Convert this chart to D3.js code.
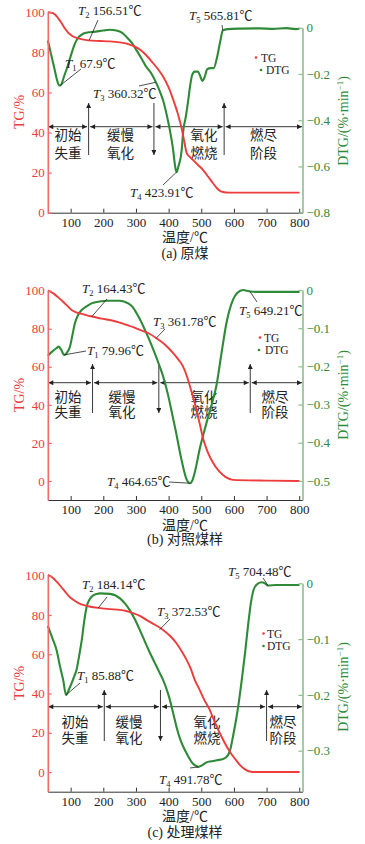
<!DOCTYPE html>
<html><head><meta charset="utf-8">
<script src="https://cdn.jsdelivr.net/npm/d3@7"></script>
<style>
body{margin:0;background:#fff}
svg{display:block}
text{font-family:"Liberation Serif","Noto Sans CJK SC",serif}
</style></head>
<body><svg id="chart" width="365" height="844"></svg>
<script>
// ---------------- DATA ----------------
const tempTicks = [100,200,300,400,500,600,700,800];
const stageNames = [["初始","失重"],["缓慢","氧化"],["氧化","燃烧"],["燃尽","阶段"]];
const captions = ["(a) 原煤","(b) 对照煤样","(c) 处理煤样"];

// (a) raw coal
const tgA = [[30,100],[40,99.8],[52,98.9],[62,97],[72,94.7],[82,92],[93,89.7],[105,88.2],[118,87.2],[135,86.5],[154,86],[190,85.7],[220,85.5],[250,85],[281,83.9],[300,82.6],[312,81.4],[330,78.8],[352,74.7],[368,71.5],[383,68],[400,62.5],[414,56.4],[428,49.5],[440,42],[448,35.5],[455,30],[465,27.8],[475,26.2],[490,23.8],[505,21.4],[520,18.2],[536,14.7],[548,12.2],[560,10.6],[575,10.1],[597,10],[700,10],[801,10]];
const dtgA = [[30,-0.055],[36,-0.09],[42,-0.127],[50,-0.175],[58,-0.225],[65,-0.25],[70,-0.248],[80,-0.21],[93,-0.156],[103,-0.11],[113,-0.069],[125,-0.04],[138,-0.026],[155,-0.02],[170,-0.018],[200,-0.012],[220,-0.009],[240,-0.012],[258,-0.022],[271,-0.04],[287,-0.065],[302,-0.098],[317,-0.133],[332,-0.17],[348,-0.2],[363,-0.242],[373,-0.275],[383,-0.314],[393,-0.37],[404,-0.444],[414,-0.53],[420,-0.6],[424,-0.625],[430,-0.6],[440,-0.53],[445,-0.444],[452,-0.39],[460,-0.314],[466,-0.25],[472,-0.205],[480,-0.19],[490,-0.19],[497,-0.21],[503,-0.23],[510,-0.215],[518,-0.18],[528,-0.175],[538,-0.175],[548,-0.13],[558,-0.06],[566,-0.012],[580,-0.006],[620,-0.004],[680,-0.003],[720,-0.005],[760,-0.002],[790,-0.006],[801,-0.003]];
const tgTicksA = [0,20,40,60,80,100];
const dtgTicksA = [0,-0.2,-0.4,-0.6,-0.8];
const peaksA = [
  {n:"1", t:67.9,   label:"67.9℃",   on:"dtg", v:-0.25},
  {n:"2", t:156.51, label:"156.51℃", on:"tg",  v:86},
  {n:"3", t:360.32, label:"360.32℃", on:"dtg", v:-0.236},
  {n:"4", t:423.91, label:"423.91℃", on:"dtg", v:-0.625},
  {n:"5", t:565.81, label:"565.81℃", on:"dtg", v:-0.012}
];
const stagesA = [155,355,570];

// (b) control sample
const tgB = [[30,100],[47,98.6],[62,96.5],[77,94.2],[90,92],[103,89.9],[115,88.8],[128,88.1],[150,87],[169,86.3],[195,85.3],[220,84.6],[250,83.2],[271,82],[292,80.8],[312,79.4],[340,77.5],[363,75],[390,71.5],[414,67.2],[430,63.8],[444,60.2],[458,54],[470,47],[482,39.5],[494,31],[506,22],[520,15],[536,9.6],[555,5],[575,2],[597,0.6],[700,0.2],[801,0]];
const dtgB = [[30,-0.172],[45,-0.16],[57,-0.152],[63,-0.148],[70,-0.155],[80,-0.17],[88,-0.165],[98,-0.148],[105,-0.12],[113,-0.087],[123,-0.065],[134,-0.052],[150,-0.042],[164,-0.035],[190,-0.03],[210,-0.028],[251,-0.028],[276,-0.035],[290,-0.045],[302,-0.061],[317,-0.085],[332,-0.113],[348,-0.145],[363,-0.178],[383,-0.226],[398,-0.274],[408,-0.313],[423,-0.374],[439,-0.443],[455,-0.496],[465,-0.506],[472,-0.5],[480,-0.478],[495,-0.417],[516,-0.348],[536,-0.287],[546,-0.252],[562,-0.165],[577,-0.087],[597,-0.026],[610,-0.008],[628,0.0],[640,-0.002],[649,-0.004],[670,-0.005],[801,-0.005]];
const tgTicksB = [0,20,40,60,80,100];
const dtgTicksB = [0,-0.1,-0.2,-0.3,-0.4,-0.5];
const peaksB = [
  {n:"1", t:79.96,  label:"79.96℃",  on:"dtg", v:-0.17},
  {n:"2", t:164.43, label:"164.43℃", on:"tg",  v:86.3},
  {n:"3", t:361.78, label:"361.78℃", on:"tg",  v:75},
  {n:"4", t:464.65, label:"464.65℃", on:"dtg", v:-0.506},
  {n:"5", t:649.21, label:"649.21℃", on:"dtg", v:-0.004}
];
const stagesB = [167,370,650];

// (c) treated sample
const tgC = [[30,100.4],[45,99],[57,97],[70,94.5],[83,91.9],[95,89.5],[108,87.7],[123,86.2],[138,85.1],[160,84.2],[190,83.5],[220,83],[251,82.6],[270,82],[291,80.9],[312,79.5],[332,77.5],[358,75],[383,72.4],[404,69.4],[424,65.6],[440,61.5],[455,57.1],[468,52.5],[480,47],[495,41.9],[510,36.5],[526,31.7],[541,25.5],[557,19.8],[572,14.8],[587,10.5],[603,6.8],[618,3.7],[633,1.5],[648,0.3],[670,0],[801,0]];
const dtgC = [[30,-0.0765],[45,-0.1],[57,-0.12],[67,-0.148],[77,-0.173],[86,-0.2],[95,-0.19],[103,-0.179],[110,-0.168],[118,-0.155],[126,-0.13],[134,-0.102],[141,-0.07],[149,-0.042],[157,-0.03],[164,-0.024],[180,-0.019],[190,-0.018],[220,-0.019],[251,-0.027],[266,-0.036],[281,-0.048],[297,-0.065],[312,-0.084],[327,-0.104],[343,-0.125],[358,-0.143],[373,-0.161],[383,-0.173],[394,-0.19],[404,-0.209],[414,-0.233],[424,-0.257],[434,-0.277],[445,-0.293],[458,-0.308],[470,-0.32],[480,-0.326],[491,-0.329],[503,-0.326],[516,-0.321],[531,-0.319],[547,-0.317],[567,-0.315],[582,-0.308],[590,-0.295],[597,-0.275],[605,-0.25],[613,-0.221],[624,-0.173],[634,-0.125],[644,-0.072],[652,-0.035],[660,-0.012],[670,-0.002],[684,0.002],[695,0.0],[704,-0.004],[730,-0.003],[801,-0.003]];
const tgTicksC = [0,20,40,60,80,100];
const dtgTicksC = [0,-0.1,-0.2,-0.3];
const peaksC = [
  {n:"1", t:85.88,  label:"85.88℃",  on:"dtg", v:-0.2},
  {n:"2", t:184.14, label:"184.14℃", on:"tg",  v:83.5},
  {n:"3", t:372.53, label:"372.53℃", on:"tg",  v:72.5},
  {n:"4", t:491.78, label:"491.78℃", on:"dtg", v:-0.329},
  {n:"5", t:704.48, label:"704.48℃", on:"dtg", v:-0.004}
];
const stagesC = [203,375,700];

// ---------------- LAYOUT ----------------
const RED = "#ee3b3b", GREEN = "#2f8a38", RED_AX = "#f26a6a", GREEN_AX = "#8cbf8c";
const X0 = 47.8, X1 = 302.5;
const panels = [
  { tg:tgA, dtg:dtgA, tgTicks:tgTicksA, dtgTicks:dtgTicksA, peaks:peaksA, stages:stagesA, cap:captions[0],
    tgDom:[0,100], tgRange:[212.7,12.3], dtgDom:[-0.8,0], dtgRange:[212.7,27.7],
    stageY:126.7, vTop:103, vBot:155, stageDirs:["up","down","up"], nameX:[68,120.5,204,263.5], nameY:[140,157.7],
    tgTitleY:112, dtgTitleY:121, legend:[[256,57.5,261,61.5],[261,70,266,74]],
    ann:{ "1":[65,67.5,81,69], "2":[78,14.5,98,20], "3":[93,97.5,139,86], "4":[130,196.5,163,185], "5":[189,19.5,222,25] },
    titleY:241.5, capY:258 },
  { tg:tgB, dtg:dtgB, tgTicks:tgTicksB, dtgTicks:dtgTicksB, peaks:peaksB, stages:stagesB, cap:captions[1],
    tgDom:[-10,100], tgRange:[500,290.7], dtgDom:[-0.55,0], dtgRange:[500,290],
    stageY:382.7, vTop:364, vBot:413, stageDirs:["up","down","up"], nameX:[68,122,204,275], nameY:[401.7,417],
    tgTitleY:395, dtgTitleY:395, legend:[[260,337.5,264,341.5],[259,350,265,354]],
    ann:{ "1":[87,355,86,351], "2":[82,293,107,299], "3":[153,326,165,329], "4":[107,486,169,482], "5":[239,315,257,302] },
    titleY:529.5, capY:544 },
  { tg:tgC, dtg:dtgC, tgTicks:tgTicksC, dtgTicks:dtgTicksC, peaks:peaksC, stages:stagesC, cap:captions[2],
    tgDom:[-10,100], tgRange:[791.7,575.7], dtgDom:[-0.3735,0], dtgRange:[791.7,583.3],
    stageY:706.7, vTop:690, vBot:741, stageDirs:["up","down","up"], nameX:[75,129,207,283], nameY:[726.7,743.3],
    tgTitleY:683, dtgTitleY:687, legend:[[263.5,633.5,267,637.5],[263.5,646,267,650]],
    ann:{ "1":[77,679.5,80,683], "2":[82,589,107,597], "3":[157,616,170,619], "4":[159,783.5,190,768], "5":[228,576,263,578] },
    titleY:820.5, capY:836.5 }
];

const svg = d3.select("#chart");
const x = d3.scaleLinear().domain([30,810]).range([X0,X1]);

const defs = svg.append("defs");
defs.append("marker").attr("id","ah").attr("viewBox","0 0 10 10").attr("refX",10).attr("refY",5)
  .attr("markerWidth",6).attr("markerHeight",5).attr("markerUnits","userSpaceOnUse")
  .attr("orient","auto-start-reverse")
  .append("path").attr("d","M0,0 L10,5 L0,10 Z").attr("fill","#222");

panels.forEach((p) => {
  const yT = d3.scaleLinear().domain(p.tgDom).range(p.tgRange);
  const yD = d3.scaleLinear().domain(p.dtgDom).range(p.dtgRange);
  const g = svg.append("g");
  const bottom = p.tgRange[0];

  // stage annotations (behind curves)
  const bx = [x.invert(X0), ...p.stages, x.invert(X1)];
  for (let i=0;i<4;i++){
    const a = x(bx[i]) + (i===0?0.5:1.5), b = x(bx[i+1]) - (i===3?0.5:1.5);
    g.append("line").attr("x1",a).attr("x2",b).attr("y1",p.stageY).attr("y2",p.stageY)
      .attr("stroke","#222").attr("stroke-width",0.9)
      .attr("marker-start","url(#ah)").attr("marker-end","url(#ah)");
    stageNames[i].forEach((s,j)=>{
      g.append("text").attr("x",p.nameX[i]).attr("y",p.nameY[j]).attr("text-anchor","middle")
        .attr("font-size",13.5).attr("fill","#222").text(s);
    });
  }
  p.stages.forEach((t,i)=>{
    const up = p.stageDirs[i]==="up";
    g.append("line").attr("x1",x(t)).attr("x2",x(t))
      .attr("y1", up ? p.vBot : p.vTop).attr("y2", up ? p.vTop : p.vBot)
      .attr("stroke","#222").attr("stroke-width",0.9).attr("marker-end","url(#ah)");
  });

  // curves
  const lineT = d3.line().x(d=>x(d[0])).y(d=>yT(d[1])).curve(d3.curveMonotoneX);
  const lineD = d3.line().x(d=>x(d[0])).y(d=>yD(d[1])).curve(d3.curveMonotoneX);
  g.append("path").attr("d",lineD(p.dtg)).attr("fill","none").attr("stroke",GREEN).attr("stroke-width",2.1);
  g.append("path").attr("d",lineT(p.tg)).attr("fill","none").attr("stroke",RED).attr("stroke-width",1.9);

  // axes
  const ax = g.append("g").attr("transform",`translate(0,${bottom})`)
    .call(d3.axisBottom(x).tickValues(tempTicks).tickSizeInner(-4).tickSizeOuter(0).tickPadding(5));
  ax.select(".domain").attr("stroke","#333");
  ax.selectAll(".tick line").attr("stroke","#333");
  ax.selectAll("text").attr("font-size",13).attr("fill","#222");

  const al = g.append("g").attr("transform",`translate(${X0},0)`)
    .call(d3.axisLeft(yT).tickValues(p.tgTicks).tickSizeInner(-4).tickSizeOuter(0).tickPadding(3));
  al.select(".domain").attr("stroke",RED_AX).attr("stroke-width",1.6);
  al.selectAll(".tick line").attr("stroke",RED_AX).attr("stroke-width",1.2);
  al.selectAll("text").attr("font-size",13).attr("fill",RED);

  const ar = g.append("g").attr("transform",`translate(${X1},0)`)
    .call(d3.axisRight(yD).tickValues(p.dtgTicks).tickSizeInner(-4).tickSizeOuter(0).tickPadding(4)
      .tickFormat(d => d===0 ? "0" : "−" + Math.abs(d)));
  ar.select(".domain").attr("stroke",GREEN_AX).attr("stroke-width",1.6);
  ar.selectAll(".tick line").attr("stroke",GREEN_AX).attr("stroke-width",1.2);
  ar.selectAll("text").attr("font-size",13).attr("fill",GREEN);

  // axis titles
  g.append("text").attr("transform",`translate(24,${p.tgTitleY}) rotate(-90)`).attr("text-anchor","middle")
    .attr("font-size",14).attr("fill",RED).text("TG/%");
  const dt = g.append("text").attr("transform",`translate(348,${p.dtgTitleY}) rotate(-90)`).attr("text-anchor","middle")
    .attr("font-size",14).attr("fill",GREEN);
  dt.append("tspan").text("DTG/(%·min");
  dt.append("tspan").attr("font-size",9).attr("dy",-5).text("−1");
  dt.append("tspan").attr("dy",5).text(")");

  g.append("text").attr("x",185).attr("y",p.titleY).attr("text-anchor","middle").attr("font-size",14).attr("fill","#222").text("温度/℃");
  g.append("text").attr("x",185).attr("y",p.capY).attr("text-anchor","middle").attr("font-size",14).attr("fill","#222").text(p.cap);

  // legend
  const lg = [["TG",RED],["DTG",GREEN]];
  lg.forEach((l,i)=>{
    const L = p.legend[i];
    g.append("circle").attr("cx",L[0]).attr("cy",L[1]).attr("r",1.3).attr("fill",l[1]);
    g.append("text").attr("x",L[2]).attr("y",L[3]).attr("font-size",11.5).attr("fill","#222").text(l[0]);
  });

  // peak annotations
  p.peaks.forEach(pk=>{
    const A = p.ann[pk.n];
    const px = x(pk.t), py = pk.on==="tg" ? yT(pk.v) : yD(pk.v);
    g.append("line").attr("x1",A[2]).attr("y1",A[3]).attr("x2",px).attr("y2",py)
      .attr("stroke","#222").attr("stroke-width",0.8);
    const t = g.append("text").attr("x",A[0]).attr("y",A[1]).attr("font-size",13).attr("fill","#222");
    t.append("tspan").attr("font-style","italic").text("T");
    t.append("tspan").attr("font-size",8.5).attr("dy",3).text(pk.n);
    t.append("tspan").attr("dy",-3).text(" " + pk.label);
  });
});
</script>
</body></html>
